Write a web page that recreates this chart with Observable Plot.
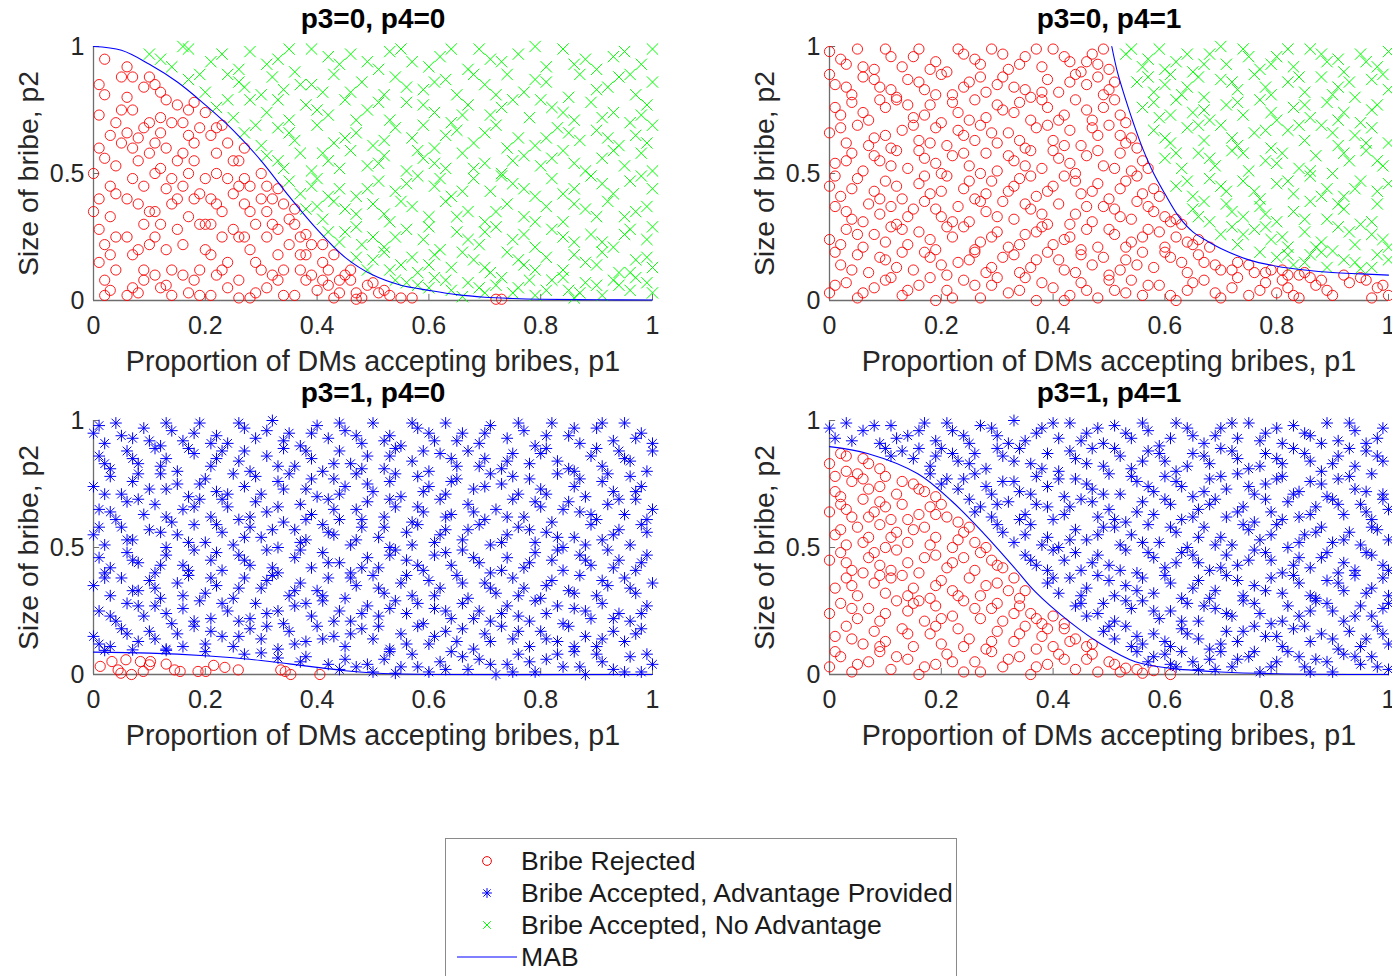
<!DOCTYPE html>
<html><head><meta charset="utf-8">
<script src="https://cdn.jsdelivr.net/npm/d3@7"></script>
<script src="https://cdn.jsdelivr.net/npm/@observablehq/plot@0.6"></script>
<style>
html,body{margin:0;padding:0;width:1392px;height:976px;overflow:hidden;background:#fff;font-family:"Liberation Sans",Arial,Helvetica,sans-serif;}
#root{position:relative;width:1392px;height:976px;overflow:hidden;}
.panel{position:absolute;width:700px;height:390px;}
#legend{position:absolute;left:445px;top:838px;width:512px;height:170px;border:1px solid #8a8a8a;box-sizing:border-box;background:#fff;}
.lrow{position:absolute;left:0;height:32px;width:510px;}
.lrow svg{position:absolute;left:0;top:0;}
.lrow span{position:absolute;left:75px;top:0;line-height:32px;font-size:26.6px;color:#1a1a1a;white-space:nowrap;}
</style></head>
<body><div id="root"></div>
<script>
// ---------- text ----------
const titles = ["p3=0, p4=0", "p3=0, p4=1", "p3=1, p4=0", "p3=1, p4=1"];
const xLabel = "Proportion of DMs accepting bribes, p1";
const yLabel = "Size of bribe, p2";
const xTicks = [0, 0.2, 0.4, 0.6, 0.8, 1];
const yTicks = [0, 0.5, 1];
const legendLabels = ["Bribe Rejected", "Bribe Accepted, Advantage Provided", "Bribe Accepted, No Advantage", "MAB"];
const legendKinds = ["circle", "star", "times", "line"];

// ---------- MAB curves (percent) ----------
const mab1X = [0,5,10,15,20,25,30,35,40,45,50,55,60,65,70,75,80,90,100];
const mab1Y = [100,98.5,93,86,77,67,55,41,28,17,10,6,4,2.3,1.3,0.8,0.5,0.3,0.2];
const mab2X = [50.5,51.5,53,54.5,56,58,60,62.5,65,67.5,70,75,80,85,90,95,100];
const mab2Y = [100,90,79,69,60,50,42,33,27,23.5,20.5,16,13.5,12,11,10.5,10];
const mab3X = [0,10,20,25,30,35,40,45,50,55,60,100];
const mab3Y = [8.8,8.4,7.4,6.6,5.5,4.2,2.8,1.5,0.6,0.2,0,0];
const mab4X = [0,6.8,15.8,21.8,27.7,33.1,36.7,42.8,48.7,54.7,60.8,70,80,100];
const mab4Y = [89.7,87,79,68.4,55.3,42,32.8,21,11.8,5,2.5,1,0.3,0];

// ---------- scatter points, flattened [p1,p2] pairs in percent ----------
// panel 1 (p3=0,p4=0)
const rejected1 = [1,60,2,95,1,28,3,45,4,12,2,81,4,70,1,15,3,4,1,40,4,53,2,22,3,33,5,88,0,50,5,62,2,8,4,25,1,73,
6,92,7,75,8,55,6,40,9,30,7,18,8,3,6,66,9,84,10,70,7,48,9,12,8,38,6,25,10,58,9,8,7,88,8,64,10,22,6,2,
11,85,12,72,13,60,11,50,14,38,12,30,13,20,11,10,14,2,12,66,15,77,13,44,11,35,14,12,15,55,12,5,13,79,15,28,11,62,
16,70,17,50,18,40,16,22,19,12,17,3,18,62,20,74,19,30,16,58,18,8,20,48,17,33,19,68,16,45,20,20,18,78,
21,65,22,50,23,35,21,18,24,5,22,58,25,42,23,25,21,40,24,62,22,10,25,28,23,69,21,2,24,15,
26,55,27,38,28,20,26,8,29,30,27,48,30,12,28,45,26,25,29,3,27,60,30,40,28,1,
31,45,32,30,33,18,31,5,34,38,32,10,33,28,35,22,31,35,34,2,33,44,
36,30,37,18,38,8,36,2,39,22,37,12,40,4,38,26,36,36,41,15,42,6,43,18,44,3,41,22,45,10,43,1,
46,8,47,3,49,6,48,1,51,3,53,2,55,1,57,1,72,0.5,73,0.5,
0,35,2,56,3,18,1,85,4,42,5,75,3,65,2,2,7,60,9,45,6,80,8,20,10,35,7,5,9,68,10,88,
12,52,14,70,11,25,13,6,15,40,12,82,14,48,17,65,16,10,19,42,18,55,20,30,17,75,19,2,
22,68,21,30,24,48,23,12,25,55,22,38,27,25,26,45,29,15,28,35,30,50,26,1,
32,40,31,25,34,12,35,32,33,8,37,25,39,10,38,18,41,8,42,12,44,8,46,12,50,7,52,4,47,0.5];
const noAdvantage1 = [10,97,14,92,17,99,21,94,26,91,28,98,33,95,36,90,39,99,44,93,46,97,51,91,55,99,57,94,62,96,67,91,69,99,73,94,76,97,81,92,84,99,88,95,90,91,95,98,98,93,
17,87,20,82,24,89,27,84,30,81,32,88,37,85,41,82,43,89,48,86,52,81,54,88,59,83,63,87,65,81,70,85,74,89,77,82,81,86,85,80,87,89,92,84,94,88,97,81,100,86,
22,76,25,72,28,79,31,74,35,71,38,77,42,73,45,79,49,75,53,71,56,78,61,74,64,70,67,77,71,73,75,79,78,72,82,76,86,71,89,78,93,74,96,70,99,77,
27,66,30,61,33,68,36,63,40,69,43,62,47,66,50,61,54,68,57,64,61,60,65,67,68,62,72,69,76,64,79,61,83,68,87,63,90,67,94,61,97,65,100,69,
31,57,34,52,37,58,39,51,42,55,46,59,49,53,52,57,56,51,59,56,63,52,66,58,70,54,73,50,77,57,80,53,84,59,88,51,91,56,95,53,98,58,
35,47,37,42,40,48,44,44,47,41,51,47,54,43,58,49,61,45,64,41,68,48,71,43,75,46,79,41,82,48,86,44,89,49,93,42,96,47,100,44,
38,36,41,32,43,39,47,34,50,38,53,31,57,37,60,33,63,39,67,35,70,31,74,38,77,33,81,37,84,31,88,36,92,39,95,33,99,37,
42,27,44,23,47,29,50,25,52,21,56,28,59,24,62,20,65,27,69,22,72,29,75,24,79,21,82,28,86,23,89,26,93,21,96,28,99,24,
47,17,49,12,52,19,55,14,58,11,61,18,64,13,68,16,71,11,74,19,77,14,81,17,84,12,88,15,91,19,94,11,97,16,100,13,
54,8,58,6,61,9,64,4,67,7,70,3,73,9,76,5,79,2,82,8,85,4,88,7,91,2,94,6,97,9,100,3,66,1.5,86,1,
12,95,16,100,23,97,31,93,35,99,42,96,49,94,53,98,60,92,64,99,71,95,79,100,86,93,93,96,100,99,
19,89,26,86,34,83,39,85,46,82,56,84,61,86,68,89,72,81,79,87,90,83,96,89,
24,79,33,79,40,75,47,71,51,78,59,77,66,73,73,76,80,79,84,74,91,72,98,73,
29,69,35,66,45,64,52,63,59,69,63,65,70,66,74,60,81,64,85,66,92,64,99,62,
33,55,41,58,44,52,51,54,58,59,61,54,68,52,75,55,82,56,86,54,93,59,100,51,
39,45,42,41,49,44,56,46,62,48,66,43,73,49,77,44,84,42,91,46,98,49,
40,37,45,36,52,34,55,39,65,33,72,35,79,31,86,38,90,33,97,35,
45,27,48,22,54,25,60,29,67,24,70,27,77,26,84,25,91,23,95,26,100,29,
50,16,53,12,57,17,60,14,66,19,70,13,76,16,79,12,86,18,90,14,96,11,99,17,
56,7,60,5,63,8,69,5,72,6,75,3,78,8,81,4,84,9,87,3,90,6,93,8,96,4,99,7];

// panel 2 (p3=0,p4=1)
const rejected2 = [0,98,3,93,5,99,8,91,11,96,13,92,16,99,19,94,21,90,24,97,27,93,29,99,32,91,35,96,38,92,40,99,43,94,45,90,47,97,48,93,50,91,
1,85,4,81,6,88,9,84,12,80,14,87,17,83,20,89,22,81,25,86,28,82,31,88,33,84,36,80,39,87,41,82,44,89,46,85,49,81,51,86,
2,73,4,78,7,71,10,76,12,79,15,72,18,77,20,70,23,74,26,79,28,72,31,75,34,78,36,71,39,76,42,73,44,79,47,71,49,76,52,73,
0,66,3,62,5,69,8,64,11,60,13,67,16,63,19,68,21,61,24,65,27,69,30,62,32,66,35,60,37,68,40,63,43,67,45,61,48,65,50,69,53,62,55,60,
1,54,4,58,6,51,9,55,12,59,14,52,17,56,20,50,22,57,25,53,28,58,30,51,33,55,36,59,38,52,41,56,44,50,46,57,49,53,52,58,54,51,57,52,
0,45,2,41,5,48,8,43,10,47,13,40,16,46,18,42,21,49,24,44,26,40,29,47,32,43,34,48,37,41,40,45,42,49,45,42,48,46,50,40,53,47,56,42,59,41,
1,37,4,32,7,38,9,34,12,30,15,36,17,39,20,33,23,37,25,31,28,35,31,39,33,32,36,36,39,30,41,38,44,34,47,31,49,37,52,33,55,39,58,35,61,31,63,30,
0,24,3,28,6,21,8,26,11,29,14,22,16,27,19,20,22,25,24,29,27,23,30,27,32,21,35,26,38,29,40,22,43,25,46,28,48,21,51,26,54,23,57,28,60,21,62,25,65,22,68,21,
2,14,5,18,7,11,10,16,13,19,15,12,18,17,21,10,23,15,26,19,29,13,31,17,34,11,37,16,39,19,42,12,45,18,47,14,50,10,53,16,56,19,58,13,61,17,64,11,67,15,70,12,73,15,76,11,79,12,82,10,85,11,
0,3,3,7,5,1,8,5,11,9,13,2,16,6,19,0,21,4,24,8,27,1,29,6,32,3,35,9,37,0,40,5,43,2,45,7,48,1,51,4,54,8,56,2,59,6,62,0,64,4,67,8,70,1,72,5,75,2,78,7,80,3,82,5,84,1,87,6,90,2,95,9,97,1,100,2,
2,95,6,92,10,99,15,96,18,91,23,99,26,95,31,97,34,93,37,99,42,96,46,94,49,99,
0,89,3,84,8,87,11,83,16,86,19,81,24,84,27,88,30,85,35,83,38,82,43,86,48,88,50,83,
1,76,6,74,9,79,14,77,17,73,22,78,25,71,30,77,33,74,38,79,41,71,46,75,51,79,53,70,
2,68,7,61,10,65,15,69,18,62,23,67,26,63,29,66,34,63,39,69,42,61,47,68,52,65,54,64,
3,55,8,57,11,53,16,59,19,54,24,58,27,50,32,57,35,53,40,59,43,54,48,59,51,52,56,55,
1,49,4,44,9,40,12,45,17,49,20,43,25,47,28,42,33,45,36,49,39,43,44,47,47,43,52,44,55,49,58,44,
3,35,6,31,11,37,14,33,19,36,22,31,27,39,30,33,35,38,38,34,43,30,46,37,51,36,54,32,57,37,60,33,62,32,
2,22,5,26,10,23,13,28,18,24,21,29,26,20,29,25,34,22,37,27,42,24,45,20,50,28,53,21,56,25,59,27,64,23,66,24,
1,19,4,12,9,17,12,13,17,19,20,14,25,16,28,11,33,18,36,13,41,16,44,11,49,17,52,12,55,14,60,19,63,15,66,18,69,14,72,12,75,14,78,11,81,12,84,10,88,8,92,10,96,8,99,6,
1,6,6,3,10,8,14,4,18,9,22,1,26,6,30,9,34,4,38,7,42,0,46,4,50,8,53,3,57,6,61,2,65,7,69,3,73,9,77,4,81,8,83,2,86,9,89,4,93,7,98,5];
const noAdvantage2 = [53,97,56,92,59,99,62,94,65,90,68,97,71,93,74,99,77,91,80,96,83,92,86,99,89,94,92,90,95,97,98,92,
55,86,58,82,61,89,64,84,67,80,70,87,73,83,76,89,79,81,82,86,85,82,88,88,91,84,94,80,97,87,100,83,
56,76,59,72,62,79,65,74,68,71,71,77,74,73,77,79,80,71,83,76,86,72,89,78,92,74,95,70,98,77,
58,67,61,62,64,68,67,63,70,69,73,61,76,66,79,60,82,67,85,63,88,69,91,61,94,65,97,68,100,62,
60,56,63,52,66,58,69,53,72,59,75,51,78,55,81,58,84,52,87,57,90,50,93,55,96,59,99,53,
62,45,65,41,68,48,71,43,74,47,77,40,80,46,83,42,86,49,89,44,92,41,95,47,98,43,
65,36,68,31,71,38,74,33,77,37,80,31,83,35,86,39,89,32,92,36,95,30,98,38,67,39,
70,26,73,22,76,28,79,24,82,21,85,27,88,23,91,29,94,22,97,26,100,21,72,29,
80,17,83,14,86,18,89,13,92,16,95,12.5,98,18,90,19.5,77,19,
54,99,57,95,60,91,64,97,67,93,70,100,75,96,79,93,82,99,88,97,91,95,96,94,100,98,
57,88,60,85,63,81,66,88,72,86,78,84,84,88,90,81,93,86,99,89,
58,78,61,73,67,75,73,78,79,74,85,77,91,71,97,75,
60,64,66,69,72,64,78,67,84,69,90,66,96,62,
62,58,68,56,74,58,80,54,86,51,92,58,98,55,
64,47,70,45,76,43,82,47,88,41,94,44,100,46,
66,33,72,35,78,34,85,32,91,38,97,31,
74,26,81,25,87,21,93,27,99,24,78,29,
82,18,85,15,88,19,94,15,97,13,100,16];

// panel 3 (p3=1,p4=0)
const advantage3 = [0,95,2,91,4,99,7,93,9,97,12,90,14,96,16,92,19,99,22,94,24,91,27,97,29,93,32,100,35,95,37,90,40,98,42,93,45,96,48,91,50,99,53,94,55,90,58,97,61,92,63,99,66,95,69,91,71,98,74,93,77,96,79,90,82,99,85,94,87,91,90,97,93,92,95,99,98,95,100,91,
1,86,3,81,6,88,8,83,11,89,13,85,15,80,18,87,21,82,23,88,26,84,28,80,31,86,34,89,36,82,39,85,41,80,44,88,46,83,49,86,52,81,54,89,57,84,60,80,62,87,65,82,67,88,70,85,73,81,75,87,78,83,81,89,83,84,86,80,89,86,91,82,94,88,96,84,99,80,
0,74,3,78,5,71,7,76,10,73,12,79,15,75,17,70,20,77,22,72,25,79,27,74,30,71,33,76,35,79,38,73,40,70,43,77,45,74,47,79,50,72,53,76,55,70,58,78,60,74,63,71,65,77,68,73,71,79,73,75,76,71,78,77,80,73,83,79,86,74,88,70,91,76,93,72,96,78,98,74,
1,65,4,61,6,68,9,63,11,67,14,60,16,65,19,69,21,62,24,66,26,61,29,68,31,64,34,60,37,67,39,63,42,69,44,61,47,65,49,68,52,62,54,66,57,60,59,64,62,69,64,63,67,67,70,61,72,65,75,69,77,62,80,66,82,60,85,68,87,64,90,61,92,67,95,63,97,69,100,65,
0,55,2,51,5,58,7,53,10,57,13,50,15,55,18,59,20,52,23,56,25,51,28,58,30,54,33,50,36,57,38,53,41,59,43,55,46,51,48,58,51,54,53,50,56,56,58,59,61,52,63,57,66,53,69,59,71,51,74,55,76,58,79,52,81,56,84,50,86,54,89,59,91,53,94,57,96,51,99,56,
1,46,3,42,6,48,8,44,11,40,13,47,16,43,18,49,21,45,23,41,26,47,28,43,31,49,33,40,36,46,39,42,41,48,44,44,46,40,49,46,51,42,54,49,56,45,59,41,61,47,64,43,66,49,69,44,71,40,74,46,77,42,79,48,82,45,84,41,87,47,89,43,92,49,94,45,97,41,99,47,
0,35,3,31,5,38,8,33,10,37,12,30,15,36,17,39,20,32,22,35,25,30,27,38,30,34,32,39,35,31,37,36,40,33,42,38,45,30,47,35,50,39,52,32,55,36,57,31,60,37,62,34,65,39,67,30,70,36,72,32,75,38,77,34,80,30,82,37,85,33,87,39,90,31,92,35,95,38,97,32,100,36,
1,25,4,21,6,28,9,23,11,27,14,20,16,26,19,29,21,22,24,25,26,21,29,28,31,24,34,20,36,27,39,23,41,29,44,25,46,21,49,27,51,23,54,29,56,24,59,20,61,26,64,22,66,28,69,25,71,21,74,27,76,23,79,29,81,24,84,20,86,26,89,22,91,28,94,24,96,21,99,27,
0,15,3,11,5,18,8,13,10,17,13,10,15,16,18,19,20,12,23,15,25,11,28,18,30,14,33,10,35,17,38,13,40,19,43,15,45,11,48,18,50,14,53,10,55,16,58,19,60,12,63,17,65,13,68,10,70,16,73,19,75,14,78,11,80,17,83,13,85,19,88,15,90,11,93,17,95,13,98,18,
2,9.5,13,9.5,27,8,33,6.5,37,5,42,4,44,2,47,3,50,1,52,6,55,3,57,8,60,1,62,5,64,9,67,2,69,6,72,0,74,4,76,8,79,1,81,6,84,3,86,9,88,0,91,5,93,2,96,7,98,1,100,4,53,9,
1,98,5,94,10,92,13,99,18,95,21,91,26,99,31,96,34,92,39,95,44,99,47,94,52,92,57,99,60,95,65,92,70,95,76,99,81,94,86,97,91,99,97,93,
2,83,7,85,12,82,17,89,22,85,27,88,33,82,38,88,43,83,48,81,53,86,59,88,64,85,69,82,74,84,80,87,85,81,90,89,95,85,100,88,
2,71,8,79,13,73,19,75,24,71,29,78,34,73,39,77,44,71,49,75,54,79,59,72,64,76,70,74,75,78,81,71,87,77,92,79,97,72,
3,64,8,69,13,62,18,66,23,69,28,62,33,66,38,61,43,65,48,61,53,69,58,66,63,62,68,64,74,62,79,68,84,65,89,63,94,69,99,61,
1,58,6,53,12,56,17,52,22,59,27,54,32,57,37,52,42,56,47,53,52,58,57,51,62,55,67,57,73,52,78,57,83,54,88,51,93,55,98,59,
2,40,7,45,12,43,17,41,22,48,27,45,32,42,37,49,42,44,48,42,53,47,58,43,63,48,68,46,73,41,78,44,83,49,88,45,93,42,98,44,
2,38,7,33,11,34,16,31,21,38,26,34,31,37,36,33,41,31,46,38,51,34,56,39,61,31,66,36,71,34,76,31,81,35,86,32,91,37,96,34,
3,23,8,27,13,24,18,21,23,28,28,22,33,25,38,28,43,21,48,24,53,26,58,28,63,25,68,22,73,24,78,21,83,27,88,25,93,22,98,24,
1,12,6,16,11,14,16,11,21,17,26,15,31,19,36,12,41,14,46,16,51,19,56,12,61,15,66,18,71,13,76,17,81,14,86,11,91,14,97,16,
7,9.7,20,9,30,8.5,38,7,45,6,49,4,54,0.5,58,3,63,2,66,7,71,4,75,1,78,5,83,8,87,3,90,8,95,1,99,8];
const rejected3 = [1.2,3.2,3.3,5.1,4.4,1.8,4.9,0.5,5.8,5.8,6.8,0,8.4,5.1,8.9,1.2,10.2,5.1,10,3.8,13,4.1,14.5,1.8,15.5,1.2,18.7,1.2,20.1,1.2,21.5,3.6,23.5,2.8,25.9,1.8,33.5,1.8,34.3,1.2,35.3,0,40.5,0];

// panel 4 (p3=1,p4=1)
const rejected4 = [0,83,3,80,6,85,9,81,2,87,
1,72,2,70,4,76,7,73,10,78,12,71,15,75,17,72,19,70,5,79,
0,64,2,67,4,62,6,69,8,64,11,61,13,67,16,63,18,66,21,62,23,60,9,68,
1,55,3,51,5,58,7,54,10,50,12,56,14,52,17,58,19,54,22,50,24,56,26,52,28,50,9,59,
0,45,2,48,4,41,7,46,9,43,12,49,14,44,16,40,19,47,21,42,24,46,26,41,29,45,31,42,6,40,
1,34,3,38,5,31,8,36,10,32,13,39,15,34,18,30,20,37,22,33,25,38,27,31,30,36,32,33,34,30,11,38,
0,24,2,28,5,22,7,26,9,21,12,29,14,25,17,21,19,27,22,23,24,29,27,22,29,26,31,21,34,27,36,24,38,20,40,23,16,29,
1,15,3,19,6,12,8,17,10,13,13,18,15,11,18,16,20,12,23,18,25,14,28,10,30,17,33,13,35,19,38,15,40,11,42,18,44,14,46,11,37,10,
0,3,2,7,4,1,7,5,9,9,11,2,14,6,16,0,19,4,21,8,24,1,26,5,29,9,31,3,34,7,36,0,39,4,41,8,44,2,46,6,48,1,50,5,52,1,53,2.5,58,1.5,61,0,56,0.5,
3,86,7,83,1,78,6,77,9,74,13,76,16,73,3,65,7,62,10,66,14,61,19,63,20,67,2,57,6,52,11,54,15,57,18,51,23,53,25,58,
3,44,8,48,11,41,17,46,22,44,27,48,30,43,4,35,9,39,14,31,19,35,23,31,28,35,33,38,35,33,
4,26,10,24,15,28,20,22,26,26,30,28,33,24,37,22,42,20,4,14,9,11,14,16,19,19,24,11,29,13,34,16,39,18,43,13,47,12,
1,9,5,4,12,7,17,3,22,5,27,1,32,6,37,3,42,6,47,8,51,4,55,2];
const advantage4 = [1,93,3,99,6,96,9,91,11,98,14,94,17,99,19,92,22,96,25,91,27,98,30,94,33,100,35,92,38,97,41,93,43,99,46,95,49,91,51,98,54,93,57,96,59,90,62,99,65,94,67,91,70,97,73,93,75,99,78,95,81,91,83,98,86,94,89,99,91,92,94,96,96,91,99,97,
13,88,15,85,18,82,20,89,23,84,26,87,28,81,31,86,34,89,36,83,39,87,41,80,44,85,47,89,49,82,52,86,54,81,57,88,60,84,62,80,65,87,68,83,70,89,73,85,75,81,78,87,81,83,83,89,86,84,88,80,91,86,94,82,96,88,99,84,10,89,
21,77,23,73,26,79,29,71,31,76,34,72,37,78,39,74,42,70,44,77,47,73,50,79,52,71,55,76,58,72,60,78,63,74,65,70,68,77,71,73,73,79,76,71,78,75,81,78,84,72,86,76,89,70,91,77,94,73,97,79,99,71,18,79,
27,66,29,62,32,68,35,63,37,67,40,61,43,66,45,69,48,62,50,65,53,60,56,68,58,63,61,67,63,61,66,65,69,69,71,62,74,66,76,60,79,64,82,68,84,62,87,66,90,69,92,63,95,67,97,61,100,65,25,69,
31,56,33,52,36,59,39,54,41,50,44,57,46,53,49,58,52,51,54,55,57,59,59,52,62,56,64,50,67,58,70,54,72,51,75,57,77,53,80,59,82,50,85,55,88,58,90,52,93,56,95,51,98,57,100,53,
35,47,37,43,40,49,42,45,45,41,48,47,50,43,53,49,55,40,58,46,60,42,63,48,66,44,68,41,71,47,73,43,76,49,79,45,81,40,84,46,86,42,89,48,92,44,94,41,97,47,99,43,
39,36,41,32,43,38,46,34,48,39,51,31,53,35,56,38,58,32,61,36,63,30,66,37,69,33,71,39,74,31,76,35,79,38,81,32,84,36,87,30,89,37,92,33,94,39,97,34,100,31,
44,27,46,23,49,28,51,21,54,26,56,29,59,22,61,25,64,28,66,21,69,26,72,23,74,29,77,24,79,20,82,27,84,23,87,29,90,25,92,21,95,27,97,23,100,28,
49,17,51,14,53,19,56,12,58,16,61,11,63,18,66,14,68,10,71,17,73,13,76,19,78,15,81,11,83,18,86,13,88,16,91,10,93,17,96,14,98,19,100,12,
58,7,61,4,63,9,66,2,68,6,70,9,72,3,75,7,77,1,80,5,82,9,85,3,87,6,90,1,92,8,95,4,97,7,100,2,55,9,
0,97,4,92,8,98,12,93,16,96,21,99,24,94,29,97,32,91,37,95,40,99,45,92,48,97,53,95,56,99,61,93,64,97,69,94,72,99,77,92,80,97,85,95,88,91,93,99,98,93,
11,86,16,89,19,86,22,87,25,83,30,89,33,84,38,81,43,88,46,83,51,89,56,84,59,87,64,82,67,86,72,88,77,82,80,85,85,87,90,83,93,89,98,86,
20,75,24,77,28,74,33,76,36,71,41,77,46,75,49,71,54,78,57,74,62,76,67,72,70,78,75,74,80,77,83,71,88,75,93,78,96,72,
26,64,30,67,34,61,39,66,42,63,47,68,51,61,55,64,60,69,65,62,68,67,73,64,78,69,81,61,86,63,91,67,96,64,99,69,
30,59,35,55,38,51,43,53,48,55,51,58,56,52,61,58,66,54,69,51,74,59,79,55,84,52,87,56,92,53,97,58,
36,45,39,41,44,48,47,44,52,41,57,48,62,44,65,47,70,42,75,45,78,48,83,43,88,46,91,40,96,48,100,41,
40,38,45,31,50,37,55,33,60,39,65,34,68,30,73,37,78,33,83,39,86,31,91,36,96,32,99,38,
45,28,48,24,53,29,58,25,63,21,67,27,71,24,76,28,81,21,86,25,89,28,94,23,99,26,
50,19,55,15,60,13,64,16,70,12,74,17,80,15,85,19,90,14,95,11,99,16,54,11,
57,5,60,8,65,5,69,2,73,6,76,9,79,3,84,7,86,1,89,5,94,7,98,3,62,3];

// ---------- styling ----------
const RED = "#ff0000", GREEN = "#00ff00", BLUE = "#0000ff";
const AXIS = "#6e6e6e", TEXT = "#262626";
const FONT = "'Liberation Sans', Arial, Helvetica, sans-serif";

function toPoints(flat) {
  const out = [];
  for (let i = 0; i < flat.length; i += 2) out.push({p1: flat[i] / 100, p2: flat[i + 1] / 100});
  return out;
}
function toCurve(xs, ys) { return xs.map((x, i) => ({p1: x / 100, p2: ys[i] / 100})); }

function makePanel(title, groups, curve) {
  const marks = [
    Plot.ruleY([0], {stroke: AXIS, strokeWidth: 1.3}),
    Plot.ruleX([0], {stroke: AXIS, strokeWidth: 1.3}),
    Plot.ruleX(xTicks.slice(1), {x: d => d, y1: 0, y2: 0.024, stroke: AXIS}),
    Plot.ruleY(yTicks.slice(1), {y: d => d, x1: 0, x2: 0.011, stroke: AXIS}),
    Plot.axisX({ticks: xTicks, tickSize: 0, tickPadding: 16, fontSize: 25, tickFormat: d => String(d), label: null, fill: TEXT}),
    Plot.axisY({ticks: yTicks, tickSize: 0, tickPadding: 9, fontSize: 25, tickFormat: d => String(d), label: null, fill: TEXT}),
    Plot.text([xLabel], {frameAnchor: "bottom", lineAnchor: "middle", textAnchor: "middle", dy: 61, fontSize: 28.6, fill: TEXT}),
    Plot.text([yLabel], {frameAnchor: "left", lineAnchor: "middle", textAnchor: "middle", rotate: -90, dx: -65, fontSize: 28.4, fill: TEXT}),
    Plot.text([title], {frameAnchor: "top", lineAnchor: "middle", textAnchor: "middle", dy: -27, fontSize: 28, fontWeight: "bold", fill: "#000"})
  ];
  if (groups.rejected) marks.push(Plot.dot(toPoints(groups.rejected), {x: "p1", y: "p2", r: 5.1, stroke: RED, strokeWidth: 0.9, fill: "none"}));
  if (groups.advantage) {
    const pts = toPoints(groups.advantage);
    marks.push(Plot.dot(pts, {x: "p1", y: "p2", symbol: "plus", r: 3.9, stroke: BLUE, strokeWidth: 1}));
    marks.push(Plot.dot(pts, {x: "p1", y: "p2", symbol: "times", r: 4.0, stroke: BLUE, strokeWidth: 1}));
  }
  if (groups.noAdvantage) marks.push(Plot.dot(toPoints(groups.noAdvantage), {x: "p1", y: "p2", symbol: "times", r: 5.2, stroke: GREEN, strokeWidth: 1}));
  marks.push(Plot.line(curve, {x: "p1", y: "p2", stroke: BLUE, strokeWidth: 1.1, curve: "catmull-rom"}));
  return Plot.plot({
    width: 700, height: 390,
    marginLeft: 93, marginRight: 48, marginTop: 46, marginBottom: 90,
    x: {domain: [0, 1]}, y: {domain: [0, 1]},
    style: {fontFamily: FONT, background: "transparent", overflow: "visible", maxWidth: "none"},
    marks
  });
}

const root = document.getElementById("root");
const panels = [
  {left: 0, top: 0, title: titles[0], groups: {rejected: rejected1, noAdvantage: noAdvantage1}, curve: toCurve(mab1X, mab1Y)},
  {left: 736, top: 0, title: titles[1], groups: {rejected: rejected2, noAdvantage: noAdvantage2}, curve: toCurve(mab2X, mab2Y)},
  {left: 0, top: 374, title: titles[2], groups: {advantage: advantage3, rejected: rejected3}, curve: toCurve(mab3X, mab3Y)},
  {left: 736, top: 374, title: titles[3], groups: {rejected: rejected4, advantage: advantage4}, curve: toCurve(mab4X, mab4Y)}
];
for (const p of panels) {
  const div = document.createElement("div");
  div.className = "panel";
  div.style.left = p.left + "px";
  div.style.top = p.top + "px";
  div.appendChild(makePanel(p.title, p.groups, p.curve));
  root.appendChild(div);
}

// ---------- legend ----------
const legend = document.createElement("div");
legend.id = "legend";
root.appendChild(legend);
legendLabels.forEach((label, i) => {
  const row = document.createElement("div");
  row.className = "lrow";
  row.style.top = (6 + i * 32) + "px";
  const svg = d3.create("svg").attr("width", 75).attr("height", 32);
  const kind = legendKinds[i];
  const cx = 41, cy = 16;
  if (kind === "circle") svg.append("circle").attr("cx", cx).attr("cy", cy).attr("r", 4.4).attr("fill", "none").attr("stroke", RED).attr("stroke-width", 1);
  if (kind === "star") {
    svg.append("path").attr("transform", `translate(${cx},${cy})`).attr("d", d3.symbol(d3.symbolPlus, 34)()).attr("fill", "none").attr("stroke", BLUE);
    svg.append("path").attr("transform", `translate(${cx},${cy})`).attr("d", d3.symbol(d3.symbolTimes, 36)()).attr("fill", "none").attr("stroke", BLUE);
  }
  if (kind === "times") svg.append("path").attr("transform", `translate(${cx},${cy})`).attr("d", d3.symbol(d3.symbolTimes, 40)()).attr("fill", "none").attr("stroke", GREEN);
  if (kind === "line") svg.append("line").attr("x1", 11).attr("x2", 71).attr("y1", cy).attr("y2", cy).attr("stroke", BLUE).attr("stroke-width", 1.2);
  row.appendChild(svg.node());
  const span = document.createElement("span");
  span.textContent = label;
  row.appendChild(span);
  legend.appendChild(row);
});
</script>
</body></html>
